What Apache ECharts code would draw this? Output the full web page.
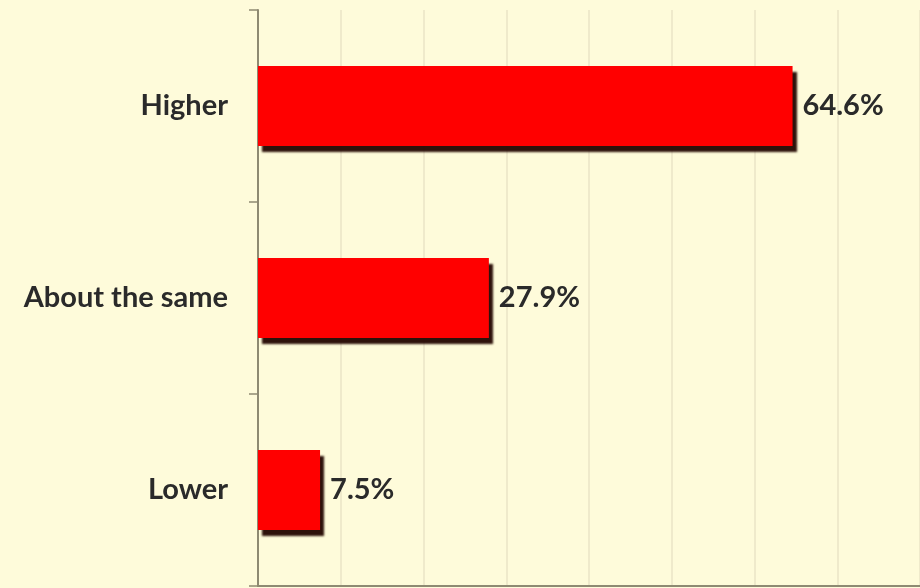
<!DOCTYPE html>
<html>
<head>
<meta charset="utf-8">
<script src="https://cdn.jsdelivr.net/npm/echarts@6/dist/echarts.min.js"></script>
<style>
  html, body { margin: 0; padding: 0; background: #FEFBDA; }
  #chart { width: 920px; height: 588px; }
</style>
</head>
<body>
<div id="chart"></div>
<script>
// Responses, top to bottom
const categories = ['Higher', 'About the same', 'Lower'];
// Share of respondents (%)
const shares = [64.6, 27.9, 7.5];

const chart = echarts.init(document.getElementById('chart'));

chart.setOption({
  backgroundColor: '#FEFBDA',
  animation: false,
  grid: { left: 258, right: 0, top: 10, bottom: 2, containLabel: false },
  xAxis: {
    type: 'value',
    min: 0,
    max: 80,
    interval: 10,
    axisLabel: { show: false },
    axisTick: { show: false },
    axisLine: { show: true, lineStyle: { color: '#8E8A72', width: 2 } },
    splitLine: { show: true, lineStyle: { color: '#EAE5C6', width: 1.5 } }
  },
  yAxis: {
    type: 'category',
    data: categories,
    inverse: true,
    axisLine: { show: true, lineStyle: { color: '#8E8A72', width: 2 } },
    axisTick: { show: true, inside: false, length: 9, lineStyle: { color: '#8E8A72', width: 1.5 } },
    axisLabel: {
      margin: 30,
      fontFamily: 'Lato',
      fontWeight: 'bold',
      fontSize: 29,
      color: '#2A2A2A'
    },
    splitLine: { show: false }
  },
  series: [{
    type: 'bar',
    data: shares,
    barWidth: 80,
    itemStyle: {
      color: '#FF0000',
      shadowColor: 'rgba(35, 5, 0, 0.95)',
      shadowBlur: 2,
      shadowOffsetX: 4,
      shadowOffsetY: 6
    },
    label: {
      show: true,
      position: 'right',
      distance: 10,
      formatter: p => p.value.toFixed(1) + '%',
      fontFamily: 'Lato',
      fontWeight: 'bold',
      fontSize: 29,
      color: '#2A2A2A'
    }
  }]
});
</script>
</body>
</html>
